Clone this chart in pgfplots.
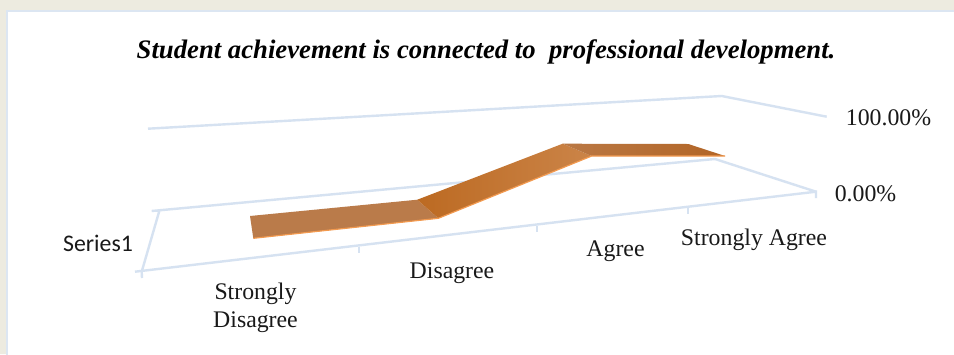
\documentclass[border=0pt]{standalone}
\usepackage{pgfplots}
\pgfplotsset{compat=1.18}
\usepackage{fontspec}
\setmainfont{Liberation Serif}
\newfontfamily\calibrifont{Carlito}
\definecolor{pagebg}{HTML}{EDEBE0}
\definecolor{framecol}{HTML}{DCE6F2}
\definecolor{gridcol}{HTML}{D6E2F1}
\definecolor{edgecol}{HTML}{F29A50}
\begin{document}
\begin{tikzpicture}[lab/.style={font=\fontsize{23.8}{28}\selectfont,align=center,text=black!90}]
\begin{axis}[
  scale only axis, width=954pt, height=354pt,
  xmin=0, xmax=954, ymin=0, ymax=354, y dir=reverse,
  hide axis, clip=true,
]
% page and chart panel
\addplot[fill=pagebg, draw=none] coordinates {(0,0) (954,0) (954,354) (0,354)} \closedcycle;
\addplot[fill=white, draw=framecol, line width=2.5pt] coordinates {(7,11) (960,11) (960,360) (7,360)} -- cycle;
% value planes and floor
\addplot[gridcol, line width=2.4pt] coordinates {(148,128.7) (721.7,96) (826.7,116.7)};
\addplot[gridcol, line width=2.4pt] coordinates {(151.7,211) (715,159) (816,191.7)};
\addplot[gridcol, line width=2.4pt] coordinates {(135,271.7) (816,191.7) (816,198)};
\addplot[gridcol, line width=2.4pt] coordinates {(159.3,211) (151.7,211)};
\addplot[gridcol, line width=2.4pt] coordinates {(159.3,211) (141.7,271.7) (142,278)};
% category ticks
\addplot[gridcol, line width=1.6pt] coordinates {(358.7,247) (358.7,252.5)};
\addplot[gridcol, line width=1.6pt] coordinates {(537,226) (537,231.5)};
\addplot[gridcol, line width=1.6pt] coordinates {(687.7,208) (687.7,213.5)};
% ribbon segments
\addplot[draw=none, fill={rgb,255:red,186;green,123;blue,74}] coordinates {(250,216) (417.3,199.7) (438.3,218.3) (253.3,238.3)} -- cycle;
\addplot[draw=none, shading=axis, shading angle=90, left color={rgb,255:red,188;green,106;blue,34}, right color={rgb,255:red,203;green,132;blue,72}] coordinates {(417.3,199.7) (562.7,143.7) (591.7,156) (438.3,218.3)} -- cycle;
\addplot[draw=none, shading=axis, shading angle=90, left color={rgb,255:red,186;green,120;blue,68}, right color={rgb,255:red,178;green,101;blue,38}] coordinates {(562.7,143.7) (688.3,144) (725,156) (591.7,156)} -- cycle;
% lower edge of the ribbon
\addplot[edgecol, line width=1.2pt] coordinates {(253.3,238.3) (438.3,218.3) (591.7,156) (725,156)};
% text
\node[font=\fontsize{26.7}{31}\selectfont\bfseries\itshape, text=black] at (axis cs:486,52) {Student achievement is connected to\ \ professional development.};
\node[lab] at (axis cs:888.5,118) {100.00\%};
\node[lab] at (axis cs:865.5,193.5) {0.00\%};
\node[lab, text width=140pt, font=\fontsize{23.8}{28}\selectfont] at (axis cs:255.5,308) {Strongly\\Disagree};
\node[lab] at (axis cs:452,273) {Disagree};
\node[lab] at (axis cs:615.5,251) {Agree};
\node[lab] at (axis cs:754,240) {Strongly Agree};
\node[font=\calibrifont\fontsize{23.8}{28}\selectfont, text=black!90] at (axis cs:98,243) {Series1};
\end{axis}
\end{tikzpicture}
\end{document}
